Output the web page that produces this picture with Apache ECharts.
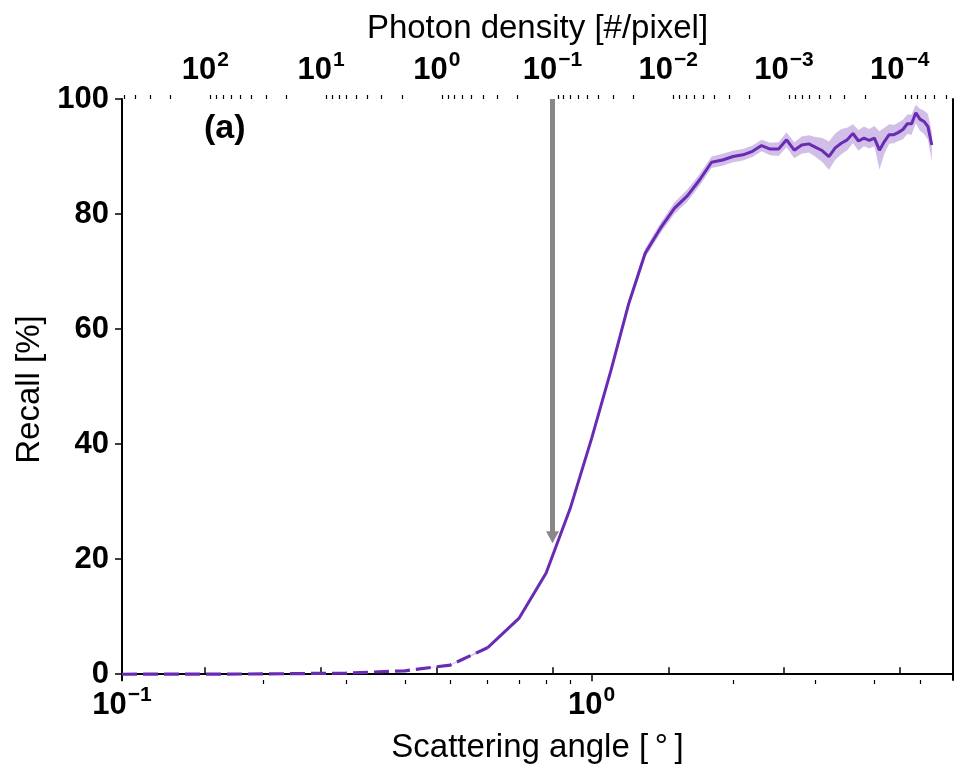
<!DOCTYPE html>
<html>
<head>
<meta charset="utf-8">
<script src="https://cdn.jsdelivr.net/npm/echarts@6/dist/echarts.min.js"></script>
<style>
  html, body { margin: 0; padding: 0; background: #fff; }
  #chart { width: 969px; height: 782px; }
</style>
</head>
<body>
<div id="chart"></div>
<script>
// scattering angle [deg] and recall [%]
const angles = [0.1, 0.2, 0.3, 0.4, 0.5, 0.6, 0.7, 0.8, 0.9, 1.0, 1.1, 1.2, 1.3, 1.4, 1.5, 1.6, 1.7, 1.8, 1.9, 2.0,
  2.1, 2.2, 2.3, 2.4, 2.5, 2.6, 2.7, 2.8, 2.9, 3.0, 3.1, 3.2, 3.3, 3.4, 3.5, 3.6, 3.7, 3.8, 3.9, 4.0,
  4.1, 4.2, 4.3, 4.4, 4.5, 4.6, 4.7, 4.8, 4.9, 5.0, 5.1, 5.2, 5.3]
const recall = [0.0, 0.05, 0.2, 0.6, 1.6, 4.6, 9.7, 17.6, 28.8, 41.0, 52.9, 64.5, 73.2, 77.5, 81.0, 83.2, 86.0, 89.0, 89.4, 90.0,
  90.3, 90.9, 91.9, 91.3, 91.3, 92.9, 91.1, 92.0, 92.2, 91.6, 91.0, 90.0, 91.5, 92.3, 92.9, 94.0, 92.7, 93.2, 92.8, 93.2,
  91.1, 92.6, 93.8, 93.8, 94.2, 94.7, 95.7, 95.7, 97.6, 96.5, 96.1, 95.2, 92.0]
const recallLow = [0.0, 0.05, 0.2, 0.6, 1.5, 4.4, 9.4, 17.2, 28.3, 40.4, 52.3, 63.8, 72.4, 76.6, 80.0, 82.2, 85.0, 88.0, 88.4, 89.0,
  89.3, 89.9, 90.9, 90.2, 90.1, 91.6, 89.7, 90.5, 90.7, 89.9, 89.0, 87.7, 89.4, 90.4, 91.1, 92.3, 91.0, 91.8, 91.4, 91.8,
  87.7, 90.5, 92.2, 92.3, 92.7, 93.0, 93.9, 93.8, 95.8, 94.5, 93.9, 92.9, 89.2]
const recallHigh = [0.0, 0.05, 0.2, 0.6, 1.7, 4.8, 10.0, 18.0, 29.3, 41.6, 53.5, 65.2, 74.0, 78.4, 82.0, 84.3, 87.0, 90.0, 90.5, 91.0,
  91.3, 91.9, 92.9, 92.4, 92.5, 94.2, 92.5, 93.5, 93.7, 93.4, 93.2, 92.6, 94.0, 94.8, 95.0, 95.6, 94.6, 95.2, 94.8, 95.3,
  94.4, 95.0, 95.6, 95.5, 95.9, 96.4, 97.3, 97.3, 99.0, 98.3, 98.0, 97.4, 94.2]
const dashedUntil = 0.6

const yTicks = [0, 20, 40, 60, 80, 100]
const angleMajor = [0.1, 1]
const angleMinor = [0.2, 0.3, 0.4, 0.5, 0.6, 0.7, 0.8, 0.9, 2, 3, 4, 5]
const densityMajor = [100, 10, 1, 0.1, 0.01, 0.001, 0.0001]
const densityDecades = [2, 1, 0, -1, -2, -3, -4, -5]

// arrow at photon density 0.1
const arrowDensity = 0.1
const arrowFrom = 100
const arrowTo = 23.8

const FONT = '"Liberation Sans", Arial, Helvetica, sans-serif'
const PURPLE = '#6a2bb4'

const densityMinor = []
densityDecades.forEach(e => {
  for (let m = 2; m <= 9; m++) densityMinor.push(+(m * Math.pow(10, e)).toPrecision(3))
})

const solid = [], dashed = [], band = []
angles.forEach((a, i) => {
  if (a <= dashedUntil) dashed.push([a, recall[i]])
  if (a >= dashedUntil) solid.push([a, recall[i]])
  band.push([a, recallLow[i], recallHigh[i]])
})

const pow10 = v => {
  const e = Math.round(Math.log10(v))
  return '{b|10}{s|' + (e < 0 ? '\u2212' + (-e) : e) + '}'
}
const tickRich = {
  b: { fontSize: 31, fontWeight: 'bold', fontFamily: FONT, color: '#000', lineHeight: 36, verticalAlign: 'bottom' },
  s: { fontSize: 21, fontWeight: 'bold', fontFamily: FONT, color: '#000', lineHeight: 21, verticalAlign: 'top', padding: [0, 0, 0, 1] }
}
const nameStyle = { fontSize: 33, fontFamily: FONT, color: '#000' }

const angleMin = 0.1, angleMax = 5.88
const densityMin = 3.47e-5, densityMax = 523.6

const chart = echarts.init(document.getElementById('chart'), null, { renderer: 'canvas' })
chart.setOption({
  animation: false,
  backgroundColor: '#fff',
  grid: { left: 122, right: 16, top: 99, bottom: 102, containLabel: false },
  graphic: [{
    type: 'text', left: 204, top: 112,
    style: { text: '(a)', fontSize: 34, fontWeight: 'bold', fontFamily: FONT, fill: '#000' }
  }],
  xAxis: [
    {
      type: 'log', position: 'bottom', min: angleMin, max: angleMax,
      name: 'Scattering angle [\u2009°\u2009]', nameLocation: 'middle', nameGap: 51, nameTextStyle: nameStyle,
      axisLine: { show: true, lineStyle: { color: '#000', width: 2 } },
      axisTick: { show: true, inside: false, length: 7, customValues: angleMajor, lineStyle: { color: '#000', width: 1.5 } },
      axisLabel: { show: true, margin: 5, customValues: angleMajor, formatter: pow10, rich: tickRich },
      splitLine: { show: false }
    },
    {
      type: 'log', position: 'top', inverse: true, min: densityMin, max: densityMax,
      name: 'Photon density [#/pixel]', nameLocation: 'middle', nameGap: 54, nameTextStyle: nameStyle,
      axisLine: { show: true, lineStyle: { color: '#000', width: 2 } },
      axisTick: { show: true, inside: false, length: 7, customValues: densityMajor, lineStyle: { color: '#000', width: 1.5 } },
      axisLabel: { show: true, margin: 13, customValues: densityMajor, formatter: pow10, rich: tickRich },
      splitLine: { show: false }
    },
    {
      type: 'log', position: 'bottom', min: angleMin, max: angleMax,
      axisLine: { show: false },
      axisTick: { show: true, inside: false, length: 4, customValues: angleMinor, lineStyle: { color: '#000', width: 1.2 } },
      axisLabel: { show: false }, splitLine: { show: false }
    },
    {
      type: 'log', position: 'top', inverse: true, min: densityMin, max: densityMax,
      axisLine: { show: false },
      axisTick: { show: true, inside: false, length: 4, customValues: densityMinor, lineStyle: { color: '#000', width: 1.2 } },
      axisLabel: { show: false }, splitLine: { show: false }
    }
  ],
  yAxis: [
    {
      type: 'value', position: 'left', min: -1, max: 100,
      name: 'Recall [%]', nameLocation: 'middle', nameGap: 76, nameRotate: 90, nameTextStyle: nameStyle,
      axisLine: { show: true, lineStyle: { color: '#000', width: 2 } },
      axisTick: { show: true, inside: false, length: 7, customValues: yTicks, lineStyle: { color: '#000', width: 1.5 } },
      axisLabel: { show: true, margin: 13, customValues: yTicks, fontSize: 31, fontWeight: 'bold', fontFamily: FONT, color: '#000' },
      splitLine: { show: false }
    },
    {
      type: 'value', position: 'right', min: -1, max: 100,
      axisLine: { show: true, lineStyle: { color: '#000', width: 2 } },
      axisTick: { show: false }, axisLabel: { show: false }, splitLine: { show: false }
    }
  ],
  series: [
    {
      // shaded spread: polygon from the upper edge forward and the lower edge back
      type: 'custom', name: 'band', xAxisIndex: 0, yAxisIndex: 0, data: band, silent: true, z: 1,
      renderItem: (params, api) => {
        if (params.dataIndex !== 0) return
        const upper = band.map(d => api.coord([d[0], d[2]]))
        const lower = band.map(d => api.coord([d[0], d[1]])).reverse()
        return {
          type: 'polygon',
          shape: { points: upper.concat(lower) },
          style: { fill: 'rgba(106,43,180,0.3)' }
        }
      }
    },
    {
      type: 'line', name: 'dashed', xAxisIndex: 0, yAxisIndex: 0, data: dashed,
      symbol: 'none', lineStyle: { color: PURPLE, width: 3.2, type: [15, 6] }, z: 3
    },
    {
      type: 'line', name: 'recall', xAxisIndex: 0, yAxisIndex: 0, data: solid,
      symbol: 'none', lineStyle: { color: PURPLE, width: 3 }, z: 3
    },
    {
      type: 'line', name: 'arrow', xAxisIndex: 1, yAxisIndex: 0,
      data: [[arrowDensity, arrowFrom], [arrowDensity, arrowTo]],
      symbol: 'none', lineStyle: { opacity: 0 }, z: 4,
      markLine: {
        silent: true, symbol: ['none', 'triangle'], symbolSize: [13, 12],
        label: { show: false },
        lineStyle: { color: '#888', width: 5, type: 'solid' },
        data: [[{ coord: [arrowDensity, arrowFrom] }, { coord: [arrowDensity, arrowTo] }]]
      }
    }
  ]
})
</script>
</body>
</html>
